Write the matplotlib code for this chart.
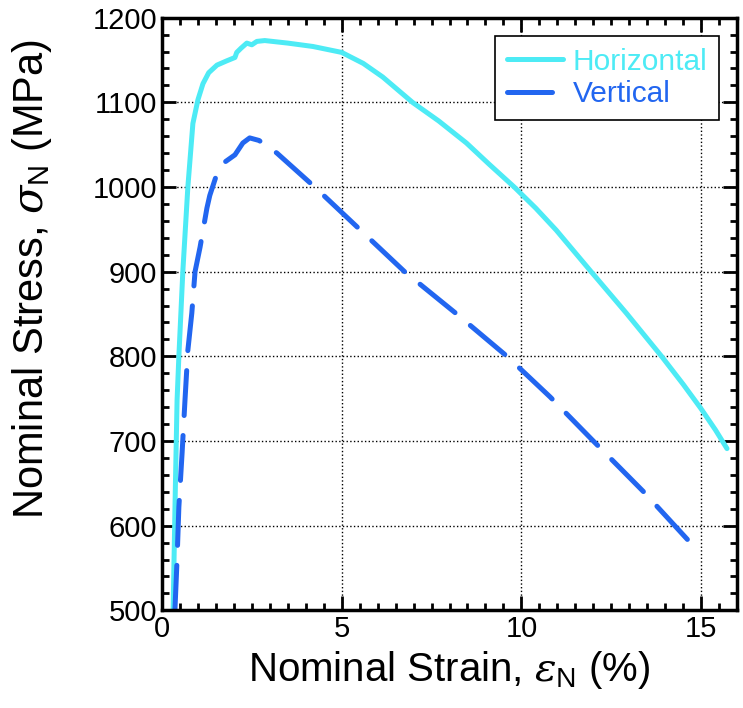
import matplotlib
matplotlib.use("Agg")
import matplotlib.pyplot as plt
from matplotlib.ticker import MultipleLocator

plt.rcParams['font.family'] = ['Liberation Sans', 'DejaVu Sans']
plt.rcParams['mathtext.fontset'] = 'custom'
plt.rcParams['mathtext.it'] = 'DejaVu Serif:italic'
plt.rcParams['mathtext.rm'] = 'Liberation Sans'

# horizontal specimen (strain %, stress MPa)
h_strain = [0.31, 0.37, 0.42, 0.47, 0.58, 0.72, 0.86, 1.00, 1.14, 1.30, 1.53,
            1.80, 2.03, 2.08, 2.20, 2.36, 2.50, 2.64, 2.86, 3.5, 4.2, 5.0, 5.6,
            6.14, 6.97, 7.7, 8.47, 9.1, 9.8, 10.4, 10.97, 11.94, 12.92, 13.9,
            14.5, 15.0, 15.4, 15.72]
h_stress = [500, 640, 748, 800, 900, 1000, 1075, 1103, 1122, 1135, 1144,
            1149, 1153, 1159, 1164, 1170, 1168, 1172, 1173, 1170, 1166, 1159, 1146,
            1130, 1100, 1078, 1052, 1027, 1000, 975, 949, 900, 851, 800,
            767, 738, 713, 691]

# vertical specimen
v_strain = [0.36, 0.42, 0.47, 0.56, 0.64, 0.72, 0.83, 0.92, 1.06, 1.25, 1.33,
            1.50, 1.70, 2.03, 2.25, 2.44, 2.7, 3.2, 4.25, 5.5, 6.75, 8.2, 9.6,
            10.8, 12.0, 13.4, 14.72]
v_stress = [500, 560, 622, 686, 748, 807, 851, 900, 929, 975, 990,
            1012, 1028, 1038, 1052, 1058, 1055, 1040, 1000, 950, 900, 850, 800,
            752, 700, 640, 579]

fig, ax = plt.subplots(figsize=(7.43, 7.08), dpi=100)
fig.subplots_adjust(left=0.218, right=0.992, top=0.975, bottom=0.138)

ax.plot(h_strain, h_stress, color='#4DEBF5', lw=3.6, label='Horizontal',
        solid_capstyle='round')
ax.plot(v_strain, v_stress, color='#2266F0', lw=3.6, label='Vertical',
        linestyle=(0, (9, 4)), dash_capstyle='round')

ax.set_xlim(0, 16)
ax.set_ylim(500, 1200)
ax.xaxis.set_major_locator(MultipleLocator(5))
ax.xaxis.set_minor_locator(MultipleLocator(0.5))
ax.yaxis.set_major_locator(MultipleLocator(100))
ax.yaxis.set_minor_locator(MultipleLocator(20))
ax.tick_params(which='both', direction='in', top=True, right=True, labelsize=21,
               width=2)
ax.tick_params(which='major', length=10)
ax.tick_params(which='minor', length=5)
for s in ax.spines.values():
    s.set_linewidth(2.5)
ax.grid(True, which='major', linestyle=':', color='black', lw=1)

ax.set_xlabel(r'Nominal Strain, $\varepsilon_{\rm N}$ (%)', fontsize=29, labelpad=4)
ax.set_ylabel(r'Nominal Stress, $\sigma_{\rm N}$ (MPa)', fontsize=30)
ax.yaxis.set_label_coords(-0.187, 0.56)

leg = ax.legend(loc='upper right', fontsize=21.5, fancybox=False, framealpha=1,
                edgecolor='black', handlelength=1.9, handletextpad=0.3,
                borderpad=0.4, labelspacing=0.15, borderaxespad=0.6)
leg.get_frame().set_linewidth(1.2)
for t, c in zip(leg.get_texts(), ['#4DEBF5', '#2266F0']):
    t.set_color(c)

fig.savefig('out.png')
